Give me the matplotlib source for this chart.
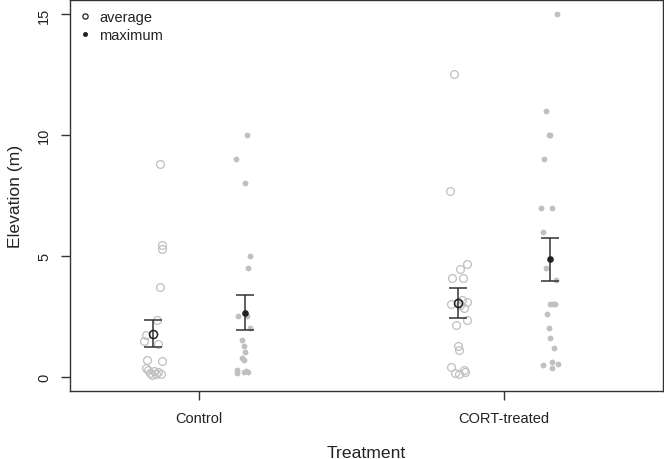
import matplotlib
matplotlib.use("Agg")
import matplotlib.pyplot as plt
from matplotlib.lines import Line2D

plt.rcParams['font.family'] = ['Liberation Sans', 'DejaVu Sans']

groups = ["Control", "CORT-treated"]

# elevation values (m), plus the small horizontal jitter of each point
ctrl_avg = [8.79, 5.44, 5.29, 3.70, 2.36, 1.71, 1.48, 1.33, 0.68, 0.66, 0.37,
            0.26, 0.15, 0.07, 0.21, 0.12, 0.18, 0.12]
ctrl_avg_jit = [0.021, 0.027, 0.030, 0.021, 0.012, -0.025, -0.030, 0.014, -0.022, 0.030, -0.023,
                -0.018, -0.011, -0.005, 0.002, 0.009, 0.015, 0.026]

ctrl_max = [10.0, 9.0, 8.0, 5.0, 4.5, 2.5, 2.5, 2.0, 1.53, 1.28, 1.0, 0.76, 0.68,
            0.29, 0.15, 0.18, 0.23, 0.18]
ctrl_max_jit = [0.007, -0.030, 0.0, 0.016, 0.010, -0.023, 0.007, 0.016, -0.010, -0.003, 0.0, -0.010, -0.003,
                -0.027, -0.027, -0.003, 0.003, 0.010]

cort_avg = [12.52, 7.67, 4.68, 4.47, 4.10, 4.10, 3.19, 3.07, 3.02, 2.82, 2.36, 2.15,
            1.28, 1.08, 0.39, 0.14, 0.12, 0.26, 0.17, 3.10, 2.95]
cort_avg_jit = [-0.015, -0.026, 0.027, 0.004, -0.022, 0.014, 0.011, 0.027, -0.025, 0.020, 0.030, -0.007,
                -0.002, 0.003, -0.025, -0.012, 0.003, 0.017, 0.021, -0.002, 0.004]

cort_max = [15.0, 11.0, 10.0, 10.0, 9.0, 7.0, 7.0, 6.0, 4.49, 4.0, 3.0, 3.0, 3.0,
            2.6, 2.0, 1.6, 1.2, 0.46, 0.61, 0.37, 0.5]
cort_max_jit = [0.023, -0.012, -0.004, 0.002, -0.019, -0.029, 0.008, -0.023, -0.011, 0.020, 0.002, 0.010, 0.016,
                -0.008, -0.002, 0.001, 0.014, -0.023, 0.006, 0.006, 0.027]

# group means and standard errors (average, maximum)
avg_mean = [1.78, 3.04]
avg_se = [0.575, 0.62]
max_mean = [2.65, 4.85]
max_se = [0.73, 0.90]

grey = "#c0c0c0"
dark = "#222222"
shift = 0.15

fig = plt.figure(figsize=(6.64, 4.6), dpi=100)
ax = fig.add_axes([70 / 664, 1 - 392 / 460, 593 / 664, 391 / 460])

for i, (avg, avg_j, mx, mx_j) in enumerate([(ctrl_avg, ctrl_avg_jit, ctrl_max, ctrl_max_jit),
                                            (cort_avg, cort_avg_jit, cort_max, cort_max_jit)]):
    pos = i + 1
    ax.plot([pos - shift + j for j in avg_j], avg, ls="none", marker="o", ms=5.6,
            mfc="none", mec=grey, mew=0.9)
    ax.plot([pos + shift + j for j in mx_j], mx, ls="none", marker="o", ms=4.2,
            mfc=grey, mec=grey, mew=0)

    ax.errorbar(pos - shift, avg_mean[i], yerr=avg_se[i], fmt="none", ecolor="#333333",
                elinewidth=1.1, capsize=6.8, capthick=1.1)
    ax.errorbar(pos + shift, max_mean[i], yerr=max_se[i], fmt="none", ecolor="#333333",
                elinewidth=1.1, capsize=6.8, capthick=1.1)
    ax.plot(pos - shift, avg_mean[i], marker="o", ms=5.8, mfc="none", mec=dark, mew=1.1, zorder=5)
    ax.plot(pos + shift, max_mean[i], marker="o", ms=4.8, mfc=dark, mec=dark, mew=0, zorder=5)

ax.set_xlim(0.577, 2.521)
ax.set_ylim(-0.6, 15.6)
ax.set_xticks([1, 2])
ax.set_xticklabels(groups)
ax.set_yticks([0, 5, 10, 15])
ax.set_yticklabels(["0", "5", "10", "15"], rotation=90, va="center")

for s in ax.spines.values():
    s.set_color("#333333")
    s.set_linewidth(1.0)
ax.tick_params(length=6.5, width=1.0, color="#333333", labelcolor="#222222", labelsize=10.5)
ax.tick_params(axis="x", pad=8)
ax.tick_params(axis="y", pad=7)

ax.set_xlabel("Treatment", fontsize=12.6, color="#222222", labelpad=14)
ax.set_ylabel("Elevation (m)", fontsize=12.6, color="#222222", labelpad=10)

handles = [Line2D([], [], ls="none", marker="o", ms=3.8, mfc="none", mec=dark, mew=0.9),
           Line2D([], [], ls="none", marker="o", ms=3.6, mfc=dark, mec=dark, mew=0)]
ax.legend(handles, ["average", "maximum"], loc="upper left", frameon=False, fontsize=10.5,
          handlelength=0.6, handletextpad=0.7, labelspacing=0.25, borderaxespad=0.3,
          borderpad=0.4, labelcolor="#222222")

fig.savefig("out.png", dpi=100)
